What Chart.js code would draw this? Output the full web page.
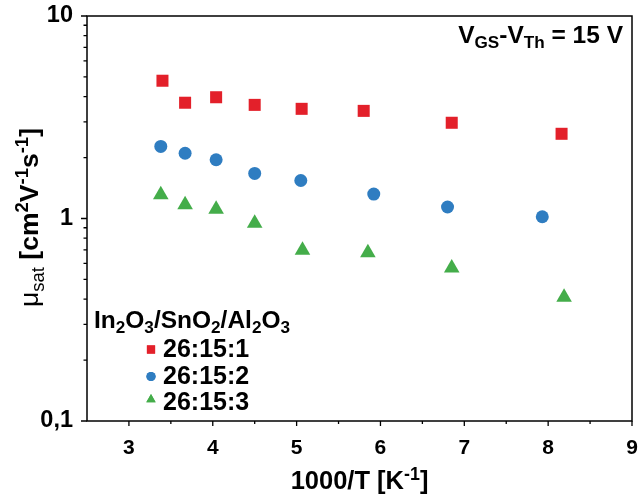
<!DOCTYPE html>
<html>
<head>
<meta charset="utf-8">
<script src="https://cdn.jsdelivr.net/npm/chart.js@4/dist/chart.umd.min.js"></script>
<style>
html,body{margin:0;padding:0;background:#fff;}
#wrap{width:638px;height:494px;position:relative;}
</style>
</head>
<body>
<div id="wrap"><canvas id="c" width="638" height="494"></canvas></div>
<script>
// ---- data ----
const seriesNames = ['26:15:1', '26:15:2', '26:15:3'];
const xRed   = [3.40, 3.67, 4.04, 4.50, 5.06, 5.80, 6.85, 8.16];
const yRed   = [4.79, 3.73, 3.97, 3.64, 3.48, 3.40, 2.97, 2.62];
const xBlue  = [3.38, 3.67, 4.04, 4.50, 5.05, 5.92, 6.80, 7.93];
const yBlue  = [2.27, 2.10, 1.95, 1.67, 1.54, 1.32, 1.14, 1.02];
const xGreen = [3.38, 3.67, 4.04, 4.50, 5.07, 5.85, 6.85, 8.19];
const yGreen = [1.31, 1.17, 1.11, 0.947, 0.697, 0.678, 0.569, 0.409];
const xTickVals = [3, 4, 5, 6, 7, 8, 9];
const xMinorVals = [3.5, 4.5, 5.5, 6.5, 7.5, 8.5];
const yTickVals = [0.1, 1, 10];
const yTickLabels = ['0,1', '1', '10'];
const yMinorVals = [0.2,0.3,0.4,0.5,0.6,0.7,0.8,0.9,2,3,4,5,6,7,8,9];

const FONT = '"Liberation Sans", Arial, Helvetica, sans-serif';
const RED = '#e3202a', BLUE = '#2f7dc1', GREEN = '#44ad4a';
const SUBF = 0.7;

function pts(xs, ys){ return xs.map((x,i)=>({x:x, y:ys[i]})); }

function richWidth(ctx, segs, size){
  let w = 0;
  for (const s of segs){
    const sz = s.k === 'n' ? size : size*SUBF;
    ctx.font = (s.w||'bold') + ' ' + sz + 'px ' + FONT;
    w += ctx.measureText(s.t).width;
  }
  return w;
}
function drawRich(ctx, segs, x, y, size, align){
  const w = richWidth(ctx, segs, size);
  let cx = align === 'center' ? x - w/2 : (align === 'right' ? x - w : x);
  ctx.textAlign = 'left';
  ctx.textBaseline = 'alphabetic';
  ctx.fillStyle = '#000';
  for (const s of segs){
    const sz = s.k === 'n' ? size : size*SUBF;
    ctx.font = (s.w||'bold') + ' ' + sz + 'px ' + FONT;
    let dy = 0;
    if (s.k === 'sub') dy = size*0.22;
    if (s.k === 'sup') dy = -size*0.36;
    ctx.fillText(s.t, cx, y + dy);
    cx += ctx.measureText(s.t).width;
  }
}

const decor = {
  id: 'decor',
  afterDatasetsDraw(chart){
    const ctx = chart.ctx;
    const a = chart.chartArea;
    const xs = chart.scales.x, ys = chart.scales.y;
    ctx.save();
    ctx.strokeStyle = '#000';
    ctx.lineWidth = 1.5;
    ctx.strokeRect(a.left, a.top, a.right - a.left, a.bottom - a.top);
    ctx.lineWidth = 1.3;
    ctx.beginPath();
    for (const v of xTickVals){ const p = xs.getPixelForValue(v); ctx.moveTo(p, a.bottom); ctx.lineTo(p, a.bottom + 5); }
    for (const v of xMinorVals){ const p = xs.getPixelForValue(v); ctx.moveTo(p, a.bottom); ctx.lineTo(p, a.bottom + 3); }
    for (const v of yTickVals){ const p = ys.getPixelForValue(v); ctx.moveTo(a.left, p); ctx.lineTo(a.left - 6, p); }
    for (const v of yMinorVals){ const p = ys.getPixelForValue(v); ctx.moveTo(a.left, p); ctx.lineTo(a.left - 3.5, p); }
    ctx.stroke();

    // x title
    drawRich(ctx, [{t:'1000/T [K',k:'n'},{t:'-1',k:'sup'},{t:']',k:'n'}], (a.left + a.right)/2, 489, 25.5, 'center');

    // y title
    ctx.save();
    ctx.translate(38, (a.top + a.bottom)/2 - 1);
    ctx.rotate(-Math.PI/2);
    drawRich(ctx, [{t:'\u03bc',k:'n',w:'normal'},{t:'sat',k:'sub',w:'normal'},{t:' [cm',k:'n'},{t:'2',k:'sup'},{t:'V',k:'n'},{t:'-1',k:'sup'},{t:'s',k:'n'},{t:'-1',k:'sup'},{t:']',k:'n'}], 0, 0, 26.5, 'center');
    ctx.restore();

    // annotation
    drawRich(ctx, [{t:'V',k:'n'},{t:'GS',k:'sub'},{t:'-V',k:'n'},{t:'Th',k:'sub'},{t:' = 15 V',k:'n'}], 623, 43, 24.5, 'right');

    // legend
    drawRich(ctx, [{t:'In',k:'n'},{t:'2',k:'sub'},{t:'O',k:'n'},{t:'3',k:'sub'},{t:'/SnO',k:'n'},{t:'2',k:'sub'},{t:'/Al',k:'n'},{t:'2',k:'sub'},{t:'O',k:'n'},{t:'3',k:'sub'}], 94, 328, 24.5, 'left');
    const ds = chart.data.datasets;
    const rows = [357, 383.5, 410];
    const mk = [{r:5.8, dy:-7.5}, {r:4.6, dy:-7}, {r:5.4, dy:-10.5}];
    ds.forEach((d, i) => {
      ctx.fillStyle = d.backgroundColor;
      ctx.strokeStyle = d.backgroundColor;
      Chart.helpers.drawPoint(ctx, {pointStyle: d.pointStyle, radius: mk[i].r, rotation: 0, borderWidth: 0}, 151, rows[i] + mk[i].dy);
      ctx.fill();
      drawRich(ctx, [{t:d.label,k:'n'}], 163, rows[i], 25, 'left');
    });
    ctx.restore();
  }
};

new Chart(document.getElementById('c'), {
  type: 'scatter',
  data: {
    datasets: [
      {label: seriesNames[0], data: pts(xRed, yRed), pointStyle: 'rect', pointRadius: 8.5, backgroundColor: RED, borderColor: RED, borderWidth: 0},
      {label: seriesNames[1], data: pts(xBlue, yBlue), pointStyle: 'circle', pointRadius: 6.5, backgroundColor: BLUE, borderColor: BLUE, borderWidth: 0},
      {label: seriesNames[2], data: pts(xGreen, yGreen), pointStyle: 'triangle', pointRadius: 9, backgroundColor: GREEN, borderColor: GREEN, borderWidth: 0}
    ]
  },
  options: {
    responsive: false,
    animation: false,
    events: [],
    layout: {autoPadding: false, padding: {top: 16, right: 6, left: 0, bottom: 0}},
    plugins: {legend: {display: false}, tooltip: {enabled: false}},
    scales: {
      x: {
        type: 'linear', min: 2.5, max: 9,
        grid: {display: false, drawTicks: false},
        border: {display: false},
        afterBuildTicks: s => { s.ticks = xTickVals.map(v => ({value: v})); },
        afterFit: s => { s.height = 73; s.paddingLeft = 0; s.paddingRight = 0; },
        ticks: {padding: 15, color: '#000', font: {family: FONT, size: 21, weight: 'bold'}, maxRotation: 0, autoSkip: false, callback: v => String(v)}
      },
      y: {
        type: 'logarithmic', min: 0.1, max: 10,
        grid: {display: false, drawTicks: false},
        border: {display: false},
        afterBuildTicks: s => { s.ticks = yTickVals.map(v => ({value: v})); },
        afterFit: s => { s.width = 87; s.paddingTop = 0; s.paddingBottom = 0; },
        ticks: {padding: 14, color: '#000', font: {family: FONT, size: 23.5, weight: 'bold'}, autoSkip: false,
          callback: v => { const i = yTickVals.indexOf(v); return i >= 0 ? yTickLabels[i] : ''; }}
      }
    }
  },
  plugins: [decor]
});
</script>
</body>
</html>
